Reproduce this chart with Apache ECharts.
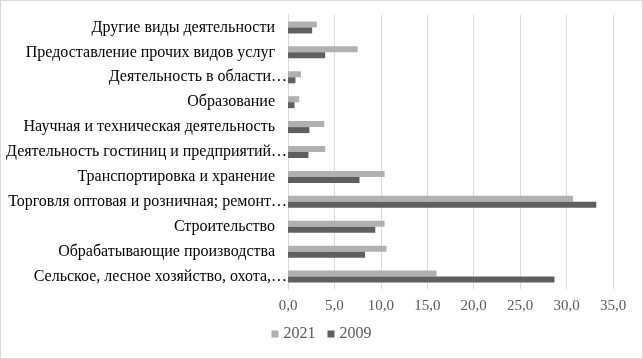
<!DOCTYPE html>
<html><head><meta charset="utf-8">
<script src="https://cdn.jsdelivr.net/npm/echarts@6/dist/echarts.min.js"></script>
<style>html,body{margin:0;padding:0;background:#fff}#c{width:641px;height:357px;border:1px solid #d9d9d9}</style>
</head><body><div id="c"></div>
<script>
const categories = [
  "Сельское, лесное хозяйство, охота,…",
  "Обрабатывающие производства",
  "Строительство",
  "Торговля оптовая и розничная; ремонт…",
  "Транспортировка и хранение",
  "Деятельность гостиниц и предприятий…",
  "Научная и техническая деятельность",
  "Образование",
  "Деятельность в области…",
  "Предоставление прочих видов услуг",
  "Другие виды деятельности"
];
const values2021 = [16.0, 10.6, 10.4, 30.7, 10.4, 4.0, 3.9, 1.2, 1.4, 7.5, 3.1];
const values2009 = [28.7, 8.3, 9.4, 33.2, 7.7, 2.2, 2.3, 0.7, 0.8, 4.0, 2.6];
const xTicks = {min: 0, max: 35, interval: 5};

const chart = echarts.init(document.getElementById('c'));
const font = '"Liberation Serif", "Times New Roman", serif';
chart.setOption({
  animation: false,
  textStyle: {fontFamily: font},
  grid: {left: 287, right: 29, top: 14, bottom: 69, containLabel: false},
  legend: {
    bottom: 11, left: 'center', itemWidth: 7, itemHeight: 7, itemGap: 12,
    data: ['2021', '2009'],
    textStyle: {fontFamily: font, fontSize: 16, color: '#595959'},
    icon: 'rect'
  },
  xAxis: {
    type: 'value', min: xTicks.min, max: xTicks.max, interval: xTicks.interval,
    axisLine: {show: false}, axisTick: {show: false},
    splitLine: {lineStyle: {color: '#d9d9d9'}},
    axisLabel: {fontFamily: font, fontSize: 15, color: '#595959', margin: 10,
      formatter: v => v.toFixed(1).replace('.', ',')}
  },
  yAxis: {
    type: 'category', data: categories,
    axisLine: {lineStyle: {color: '#d9d9d9'}}, axisTick: {show: false},
    axisLabel: {fontFamily: font, fontSize: 16, color: '#000', margin: 1,
      formatter: v => v.endsWith('…') ? '{t|' + v + '}' : '{n|' + v + '}',
      rich: {
        t: {fontFamily: font, fontSize: 16, color: '#000'},
        n: {fontFamily: font, fontSize: 16, color: '#000', padding: [0, 12, 0, 0]}
      }
    }
  },
  series: [
    {name: '2021', type: 'bar', data: values2021, itemStyle: {color: '#b0b0b0'}, barWidth: 6, barGap: '0%'},
    {name: '2009', type: 'bar', data: values2009, itemStyle: {color: '#5f5f5f'}, barWidth: 6, barGap: '0%'}
  ]
});
</script></body></html>
